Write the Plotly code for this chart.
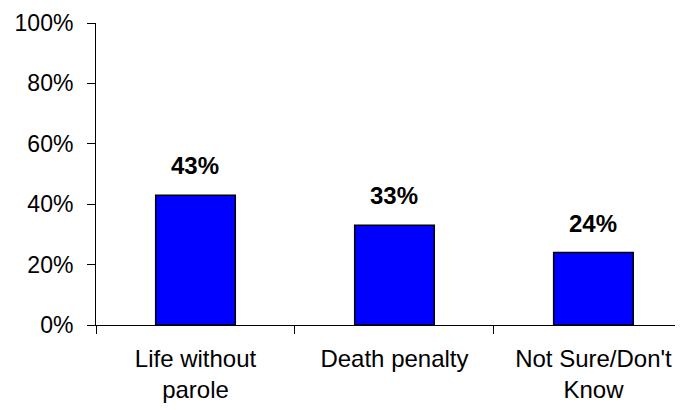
import plotly.graph_objects as go

categories = ["Life without<br>parole", "Death penalty", "Not Sure/Don't<br>Know"]
values = [43, 33, 24]
value_labels = ["43%", "33%", "24%"]
y_ticks = [0, 20, 40, 60, 80, 100]
y_tick_labels = ["0%", "20%", "40%", "60%", "80%", "100%"]

FONT = "Liberation Sans, Arial, sans-serif"

fig = go.Figure()
fig.add_trace(go.Bar(
    x=categories, y=values, width=0.4,
    marker=dict(color="#0000FF", line=dict(color="black", width=1.5)),
    hoverinfo="skip",
))
for c, v, t in zip(categories, values, value_labels):
    fig.add_annotation(x=c, y=v, text="<b>" + t + "</b>", showarrow=False,
                       yanchor="bottom", yshift=14,
                       font=dict(family=FONT, size=24, color="black"))

fig.update_layout(
    width=683, height=410,
    margin=dict(l=88, r=8, t=15, b=93, autoexpand=False),
    paper_bgcolor="white", plot_bgcolor="white",
    showlegend=False,
    font=dict(family=FONT, size=24, color="black"),
)
fig.update_xaxes(
    type="category", range=[-0.5, 2.45],
    showline=True, linecolor="black", linewidth=1,
    ticks="outside", tickson="boundaries", ticklen=8, tickcolor="black",
    tickfont=dict(family=FONT, size=24, color="black"),
    ticklabelstandoff=12,
    showgrid=False, zeroline=False,
)
fig.update_yaxes(
    range=[0, 100], tickvals=y_ticks, ticktext=y_tick_labels,
    showline=True, linecolor="black", linewidth=1,
    ticks="outside", ticklen=8, tickcolor="black",
    tickfont=dict(family=FONT, size=23, color="black"),
    ticklabelstandoff=9,
    showgrid=False, zeroline=False,
)
fig.write_html("out.html")
